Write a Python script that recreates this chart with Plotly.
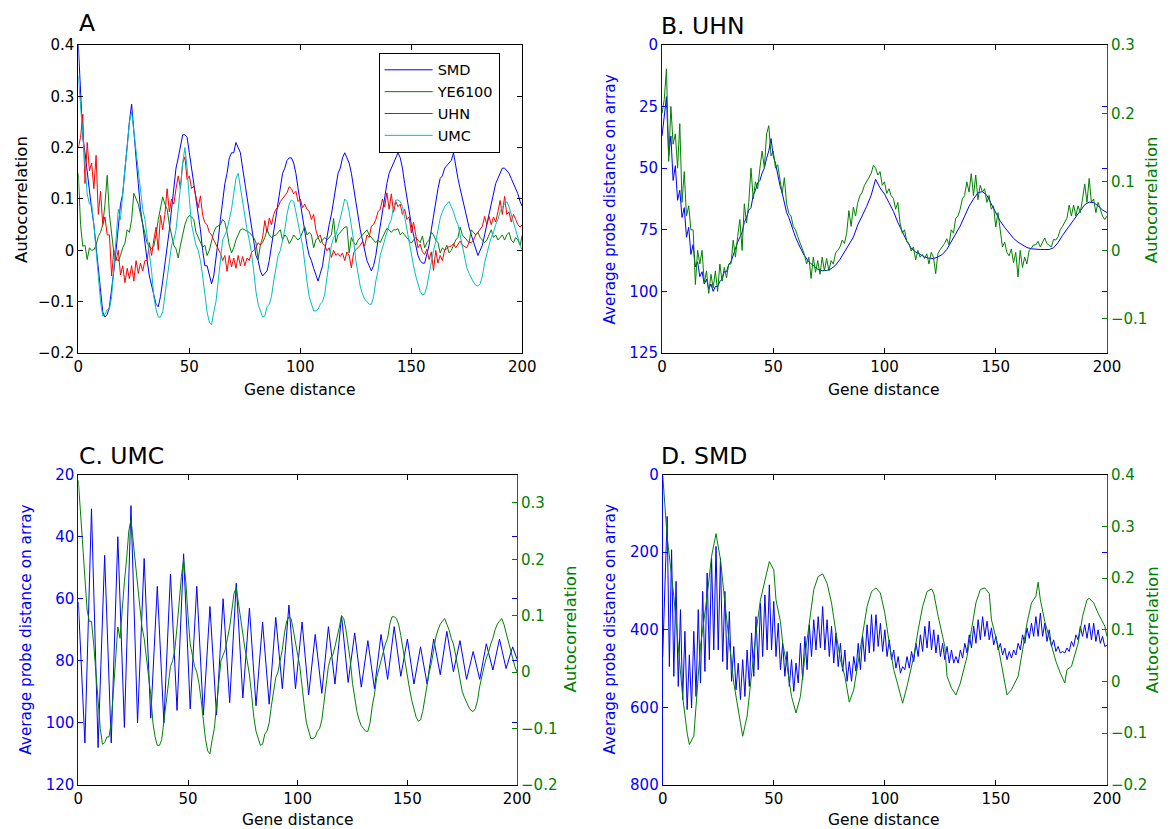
import plotly.graph_objects as go

# ---------------- data ----------------
gene_distance = list(range(201))

# Panel A autocorrelations (lag 0..200)
smd_auto = [
    0.40, 0.32, 0.22, 0.19, 0.15, 0.12, 0.08, 0.05, 0.01, -0.04,
    -0.08, -0.12, -0.13, -0.125, -0.11, -0.08, -0.04, 0.00, 0.05, 0.09,
    0.11, 0.16, 0.21, 0.25, 0.285, 0.24, 0.18, 0.13, 0.08, 0.05,
    0.01, -0.02, -0.05, -0.07, -0.09, -0.105, -0.11, -0.09, -0.06, -0.03,
    0.00, 0.04, 0.08, 0.12, 0.16, 0.18, 0.20, 0.225, 0.225, 0.22,
    0.19, 0.16, 0.13, 0.11, 0.08, 0.04, 0.00, -0.03, -0.03, -0.05,
    -0.065, -0.05, -0.02, 0.02, 0.06, 0.10, 0.13, 0.15, 0.18, 0.19,
    0.19, 0.21, 0.20, 0.19, 0.16, 0.13, 0.10, 0.07, 0.04, 0.01,
    -0.01, -0.02, -0.04, -0.05, -0.045, -0.04, -0.02, 0.01, 0.04, 0.07,
    0.10, 0.13, 0.15, 0.16, 0.175, 0.18, 0.18, 0.17, 0.15, 0.12,
    0.09, 0.06, 0.04, 0.01, -0.01, -0.02, -0.035, -0.05, -0.06, -0.045,
    -0.03, 0.00, 0.03, 0.05, 0.07, 0.10, 0.12, 0.15, 0.16, 0.18,
    0.19, 0.18, 0.17, 0.15, 0.12, 0.09, 0.06, 0.04, 0.02, 0.00,
    -0.02, -0.03, -0.04, -0.03, -0.01, 0.02, 0.05, 0.08, 0.10, 0.13,
    0.15, 0.16, 0.17, 0.18, 0.19, 0.18, 0.16, 0.13, 0.10, 0.08,
    0.05, 0.03, 0.01, -0.01, -0.02, -0.025, -0.025, -0.01, 0.01, 0.04,
    0.07, 0.10, 0.12, 0.14, 0.145, 0.16, 0.165, 0.17, 0.175, 0.19,
    0.16, 0.14, 0.12, 0.10, 0.08, 0.06, 0.045, 0.03, 0.015, 0.005,
    -0.01, 0.00, 0.01, 0.03, 0.05, 0.07, 0.09, 0.11, 0.13, 0.14,
    0.15, 0.16, 0.16, 0.155, 0.15, 0.14, 0.13, 0.12, 0.11, 0.095,
    0.085,
]

ye6100_auto = [
    0.15, 0.05, 0.008, 0.01, -0.018, 0.005, 0.0, 0.001, 0.01, 0.027,
    0.035, 0.05, 0.09, 0.146, 0.07, 0.03, -0.005, -0.015, -0.021, -0.01,
    0.005, 0.014, 0.04, 0.035, 0.06, 0.111, 0.10, 0.09, 0.07, 0.05,
    0.03, 0.014, 0.008, 0.003, 0.008, 0.03, 0.06, 0.08, 0.104, 0.09,
    0.08, 0.05, 0.027, 0.01, 0.003, -0.015, 0.01, 0.03, 0.05, 0.062,
    0.068, 0.065, 0.06, 0.035, 0.025, 0.015, 0.006, 0.01, -0.01, 0.0,
    0.02, 0.035, 0.045, 0.048, 0.05, 0.06, 0.055, 0.035, 0.01, -0.005,
    0.005, 0.02, 0.03, 0.04, 0.042, 0.04, 0.037, 0.035, 0.03, 0.025,
    0.015, -0.018, 0.01, 0.015, 0.025, 0.04, 0.03, 0.025, 0.028, 0.03,
    0.035, 0.04, 0.02, 0.03, 0.025, 0.013, 0.02, 0.03, 0.025, 0.02,
    0.025, 0.035, 0.046, 0.03, 0.035, 0.03, 0.005, 0.02, 0.025, 0.015,
    0.02, 0.025, 0.02, 0.025, 0.03, 0.062, 0.015, 0.03, 0.035, 0.04,
    0.045, 0.046, -0.005, 0.025, 0.015, 0.01, 0.02, 0.025, 0.03, 0.035,
    0.04, 0.03, 0.025, 0.02, 0.015, 0.02, 0.015, 0.025, 0.035, 0.043,
    0.04, 0.035, 0.04, 0.04, 0.042, 0.03, 0.035, 0.03, 0.025, 0.02,
    0.014, 0.02, 0.025, 0.02, 0.015, 0.028, 0.005, 0.015, 0.02, 0.035,
    0.03, 0.02, 0.015, -0.005, 0.005, 0.0, 0.01, -0.005, 0.0, 0.01,
    0.02, 0.025, 0.045, 0.03, 0.025, 0.02, 0.015, 0.04, 0.035, 0.03,
    0.035, 0.025, 0.02, 0.015, 0.02, 0.03, 0.04, 0.025, 0.03, 0.02,
    0.025, 0.03, 0.02, 0.03, 0.035, 0.02, 0.015, 0.025, 0.02, 0.01,
    0.03,
]

uhn_auto = [
    0.20, 0.22, 0.265, 0.13, 0.21, 0.155, 0.17, 0.12, 0.185, 0.07,
    0.115, 0.05, 0.065, 0.03, 0.03, -0.05, 0.0, -0.02, 0.0, -0.048,
    -0.03, -0.063, -0.035, -0.055, -0.03, -0.06, -0.02, -0.045, -0.025, -0.04,
    -0.02, -0.02, 0.015, -0.01, 0.02, 0.045, 0.0, 0.068, 0.04, 0.07,
    0.12, 0.075, 0.10, 0.09, 0.12, 0.145, 0.12, 0.17, 0.182, 0.138,
    0.145, 0.12, 0.125, 0.10, 0.083, 0.106, 0.068, 0.054, 0.05, 0.035,
    0.03, 0.02, 0.011, 0.002, -0.006, -0.02, -0.01, -0.041, -0.01, -0.032,
    -0.015, -0.035, -0.01, -0.03, -0.012, -0.03, -0.015, -0.02, -0.004, 0.0,
    0.005, 0.015, 0.01, 0.025, 0.058, 0.035, 0.063, 0.05, 0.07, 0.08,
    0.085, 0.095, 0.10, 0.105, 0.112, 0.124, 0.12, 0.11, 0.115, 0.095,
    0.10, 0.083, 0.09, 0.08, 0.076, 0.06, 0.07, 0.04, 0.025, 0.03,
    0.013, 0.01, -0.001, 0.005, -0.014, 0.0, -0.01, -0.006, -0.012, -0.005,
    -0.02, -0.003, -0.01, -0.034, -0.005, 0.001, 0.005, 0.01, 0.017, 0.008,
    0.03, 0.025, 0.047, 0.05, 0.06, 0.075, 0.08, 0.10, 0.085, 0.112,
    0.08, 0.11, 0.074, 0.095, 0.085, 0.09, 0.07, 0.08, 0.06, 0.065,
    0.034, 0.055, 0.03, 0.005, 0.012, -0.003, -0.008, 0.002, -0.018, -0.003,
    -0.039, 0.0, -0.025, -0.01, -0.02, 0.0, 0.003, 0.008, 0.008, 0.013,
    0.005, 0.012, 0.018, 0.01, 0.008, 0.005, 0.016, 0.015, 0.02, 0.03,
    0.035, 0.042, 0.047, 0.066, 0.05, 0.066, 0.05, 0.065, 0.055, 0.075,
    0.097, 0.07, 0.105, 0.07, 0.075, 0.055, 0.07, 0.06, 0.05, 0.045,
    0.05,
]

umc_auto = [
    0.34, 0.28, 0.22, 0.15, 0.11, 0.09, 0.09, 0.05, 0.0, -0.05,
    -0.10, -0.128, -0.125, -0.115, -0.115, -0.09, -0.03, 0.03, 0.08, 0.06,
    0.12, 0.16, 0.20, 0.25, 0.27, 0.23, 0.20, 0.15, 0.11, 0.08,
    0.06, 0.03, 0.0, -0.04, -0.09, -0.115, -0.13, -0.13, -0.12, -0.09,
    -0.06, -0.02, 0.01, 0.02, 0.04, 0.08, 0.13, 0.17, 0.20, 0.16,
    0.10, 0.05, 0.03, 0.01, 0.0, -0.02, -0.05, -0.09, -0.12, -0.14,
    -0.145, -0.12, -0.10, -0.06, -0.02, 0.02, 0.03, 0.04, 0.06, 0.08,
    0.11, 0.14, 0.15, 0.12, 0.09, 0.06, 0.04, 0.02, -0.005, -0.04,
    -0.08, -0.105, -0.12, -0.13, -0.128, -0.11, -0.105, -0.09, -0.06, -0.03,
    -0.01, 0.0, 0.02, 0.04, 0.07, 0.09, 0.098, 0.095, 0.075, 0.05,
    0.03, 0.01, -0.03, -0.06, -0.09, -0.105, -0.118, -0.118, -0.115, -0.105,
    -0.10, -0.085, -0.05, -0.02, 0.01, 0.025, 0.03, 0.045, 0.06, 0.08,
    0.10, 0.095, 0.075, 0.05, 0.02, -0.02, -0.05, -0.07, -0.085, -0.095,
    -0.10, -0.105, -0.105, -0.09, -0.06, -0.04, -0.01, 0.005, 0.025, 0.04,
    0.05, 0.06, 0.085, 0.098, 0.098, 0.095, 0.085, 0.065, 0.04, 0.018,
    -0.01, -0.03, -0.05, -0.065, -0.08, -0.087, -0.085, -0.07, -0.045, -0.02,
    0.0, 0.017, 0.04, 0.062, 0.075, 0.085, 0.09, 0.095, 0.085, 0.075,
    0.06, 0.05, 0.03, 0.007, -0.015, -0.034, -0.045, -0.055, -0.062, -0.068,
    -0.07, -0.065, -0.05, -0.025, -0.005, 0.01, 0.025, 0.035, 0.05, 0.06,
    0.075, 0.085, 0.09, 0.095, 0.085, 0.07, 0.055, 0.04, 0.02, 0.01,
    0.0,
]

# Panel B: UHN average probe distance on array
uhn_probe_x = list(range(0, 61)) + list(range(62, 201, 2))
uhn_probe = [
    37, 30, 21, 45, 37, 55, 49, 63, 59, 70,
    66, 78, 74, 85, 81, 90, 88, 94, 92, 97,
    95, 99, 97, 100, 98, 98, 96, 95, 92, 92,
    89, 88, 85, 83, 80, 78, 76, 72, 70, 67,
    66, 61, 59, 56, 55, 52, 50, 46, 43, 38,
    45, 48, 53, 57, 60, 64, 68, 70, 73, 76,
    78,
    82, 85.5, 88, 89.5, 91, 91.6, 91.5, 90.8, 89.4, 87,
    84, 81, 78, 73, 69.5, 65.5, 61, 54.5, 58, 60.5,
    64, 67.5, 72, 76, 79.5, 82.5, 84, 85, 86, 86.5,
    86.7, 86, 85, 83, 80, 77, 73.5, 69.5, 65.5, 62.5,
    60, 59.5, 61, 64.5, 68, 71.5, 74, 76.5, 78.5, 80,
    81.2, 82.2, 82.7, 83, 83, 83, 83, 82.3, 80.2, 77.3,
    74.8, 72, 69.5, 67, 64.8, 63.8, 64, 65.3, 67, 68,
]

# Panel C: UMC average probe distance on array (turning points)
umc_probe_x = list(range(0, 199, 3)) + [200]
umc_probe = [
    61, 106.5, 31, 108, 46, 106.5, 40, 101.5, 30, 100,
    47, 98.5, 56, 100, 52, 96, 45.5, 95.5, 56, 97.5,
    62.5, 97.5, 60, 93.5, 55, 92, 63, 94.5, 67.5, 94,
    66, 89, 62, 89, 67.5, 91, 71.5, 90.5, 69, 87.5,
    65.5, 87, 71, 88.5, 73.5, 89, 71.5, 86, 69, 85,
    73, 87.5, 75.5, 87.5, 73, 84.5, 70.5, 83.5, 73.5, 86,
    77, 86, 74.5, 83, 73, 82.5, 75.5, 79.5,
]

# Panel D: SMD average probe distance on array
smd_probe_x = [0] + list(range(2, 201))
smd_probe = [
    469,
    107.5, 495, 193.5, 520, 275, 546, 348, 580,
    404, 606, 464.5, 602, 404, 572, 348, 537.5, 301, 507.5,
    253.7, 477, 215, 452, 185, 452, 215, 482, 301, 503,
    353, 533, 443, 555, 486, 580, 477, 572, 452, 546,
    408, 520, 366, 503, 331, 469, 310, 452, 284, 452,
    327, 469, 383, 503, 435, 520, 456, 546, 477, 559,
    486, 537, 435, 529, 417, 503, 387, 469, 374, 452,
    366, 447, 340, 452, 374, 469, 391, 486, 408, 495,
    435, 507, 452, 533, 482, 533, 469, 507, 435, 503,
    417, 482, 387, 460, 361, 456, 361, 443, 383, 456,
    400, 469, 426, 477, 452, 499, 469, 512, 495, 503,
    469, 499, 456, 482, 435, 469, 413, 456, 391, 447,
    378, 452, 400, 460, 413, 469, 435, 477, 443, 486,
    452, 486, 469, 486, 452, 473, 435, 460, 413, 447,
    391, 435, 374, 426, 366, 417, 378, 426, 395, 439,
    417, 452, 435, 465, 447, 477, 456, 473, 452, 465,
    435, 452, 413, 435, 395, 422, 383, 417, 366, 417,
    357, 417, 383, 430, 400, 443, 426, 456, 443, 460,
    456, 460, 447, 456, 430, 443, 413, 426, 391, 417,
    387, 422, 383, 426, 383, 430, 400, 435, 417, 443,
    440,
]

# Panel D: SMD autocorrelation as drawn in panel D
smd_auto_d_x = [0, 2, 5, 7, 9, 11, 12, 14, 15, 17, 20, 22, 24, 26, 28, 30, 32, 35, 36, 38,
                40, 42, 44, 47, 48, 50, 51, 53, 54, 56, 58, 60, 62, 64, 66, 68, 70, 72, 74, 76,
                78, 80, 82, 84, 86, 88, 90, 92, 94, 96, 98, 100, 102, 104, 106, 108, 110, 113, 115, 117,
                119, 121, 122, 124, 127, 128, 130, 132, 134, 137, 139, 141, 143, 145, 147, 148, 151, 153, 155, 157,
                160, 162, 164, 166, 168, 169, 170, 172, 175, 177, 179, 181, 182, 184, 187, 189, 191, 192, 194, 196,
                199, 200]
smd_auto_d = [0.40, 0.28, 0.165, 0.06, -0.03, -0.10, -0.122, -0.106, -0.042, 0.068, 0.165, 0.242, 0.286, 0.236, 0.152, 0.074, -0.003, -0.08, -0.106, -0.067,
              0.016, 0.094, 0.158, 0.216, 0.232, 0.216, 0.158, 0.116, 0.074, 0.029, -0.029, -0.061, -0.029, 0.048, 0.119, 0.178, 0.203, 0.208, 0.19, 0.152,
              0.094, 0.042, 0.01, -0.04, -0.016, 0.036, 0.094, 0.145, 0.174, 0.181, 0.171, 0.132, 0.074, 0.023, -0.009, -0.042, -0.009, 0.048, 0.10, 0.145,
              0.174, 0.179, 0.171, 0.126, 0.068, 0.01, -0.013, -0.026, -0.003, 0.048, 0.10, 0.152, 0.178, 0.181, 0.17, 0.119, 0.068, 0.023, -0.026, -0.016,
              0.01, 0.061, 0.113, 0.152, 0.165, 0.192, 0.158, 0.116, 0.068, 0.039, 0.016, -0.003, 0.023, 0.029, 0.074, 0.126, 0.158, 0.161, 0.152, 0.132,
              0.107, 0.087]

x_ticks = [0, 50, 100, 150, 200]
legend_names = ["SMD", "YE6100", "UHN", "UMC"]

# ---------------- style ----------------
W, H = 1170, 829
FONT = "DejaVu Sans"
BLUE = "#0000ff"
GREEN = "#008000"
RED = "#ff0000"
CYAN = "#00bfbf"
TICK_SIZE = 15
XLAB_SIZE = 15.5
AUTO_LAB_SIZE = 16.5
PROBE_LAB_SIZE = 15.3
TITLE_SIZE = 23.5

# the rendered page comes out slightly shrunk; map target pixel positions accordingly
SX, OX = 0.986, 3.5
SY, OY = 0.981, 8.0


def fx(p):
    return min(max((p - OX) / SX / W, 0.0), 1.0)


def fy(p):
    return min(max(1 - (p - OY) / SY / H, 0.0), 1.0)


fig = go.Figure()

# Panel A
for name, vals, col in zip(legend_names, [smd_auto, ye6100_auto, uhn_auto, umc_auto], [BLUE, GREEN, RED, CYAN]):
    fig.add_trace(go.Scatter(x=gene_distance, y=vals, mode="lines", name=name,
                             line=dict(color=col, width=1), xaxis="x", yaxis="y"))

# Panel B
fig.add_trace(go.Scatter(x=uhn_probe_x, y=uhn_probe, mode="lines", showlegend=False,
                         line=dict(color=BLUE, width=1), xaxis="x2", yaxis="y2"))
fig.add_trace(go.Scatter(x=gene_distance, y=uhn_auto, mode="lines", showlegend=False,
                         line=dict(color=GREEN, width=1), xaxis="x2", yaxis="y3"))
# Panel C
fig.add_trace(go.Scatter(x=umc_probe_x, y=umc_probe, mode="lines", showlegend=False,
                         line=dict(color=BLUE, width=1), xaxis="x3", yaxis="y4"))
fig.add_trace(go.Scatter(x=gene_distance, y=umc_auto, mode="lines", showlegend=False,
                         line=dict(color=GREEN, width=1), xaxis="x3", yaxis="y5"))
# Panel D
fig.add_trace(go.Scatter(x=smd_probe_x, y=smd_probe, mode="lines", showlegend=False,
                         line=dict(color=BLUE, width=1), xaxis="x4", yaxis="y6"))
fig.add_trace(go.Scatter(x=smd_auto_d_x, y=smd_auto_d, mode="lines", showlegend=False,
                         line=dict(color=GREEN, width=1), xaxis="x4", yaxis="y7"))


def xax(domain, anchor):
    return dict(domain=domain, anchor=anchor, range=[0, 200], tickvals=x_ticks,
                ticks="inside", ticklen=5, tickcolor="black", showline=True, linecolor="black",
                linewidth=1, mirror="ticks", showgrid=False, zeroline=False,
                tickfont=dict(family=FONT, size=TICK_SIZE, color="black"))


def yax(domain, anchor, rng, tickvals, color, side="left", overlaying=None, mirror="ticks"):
    d = dict(anchor=anchor, range=rng, tickvals=tickvals, ticks="inside", ticklen=5,
             tickcolor=color, showline=True, linecolor=color, linewidth=1, mirror=mirror,
             showgrid=False, zeroline=False, side=side,
             tickfont=dict(family=FONT, size=TICK_SIZE, color=color))
    if overlaying:
        d["overlaying"] = overlaying
    else:
        d["domain"] = domain
    return d


top_dom = [fy(353), fy(44)]
bot_dom = [fy(786), fy(475)]

fig.update_layout(
    width=W, height=H, autosize=False, margin=dict(l=0, r=0, t=0, b=0),
    paper_bgcolor="white", plot_bgcolor="white",
    font=dict(family=FONT, size=XLAB_SIZE, color="black"),
    xaxis=xax([fx(77), fx(522)], "y"),
    yaxis=yax(top_dom, "x", [-0.2, 0.4], [-0.2, -0.1, 0, 0.1, 0.2, 0.3, 0.4], "black"),
    xaxis2=xax([fx(662), fx(1108)], "y2"),
    yaxis2=yax(top_dom, "x2", [125, 0], [0, 25, 50, 75, 100, 125], BLUE),
    yaxis3=yax(None, "x2", [-0.15, 0.3], [-0.1, 0, 0.1, 0.2, 0.3], GREEN, side="right",
               overlaying="y2", mirror=False),
    xaxis3=xax([fx(77), fx(516.7)], "y4"),
    yaxis4=yax(bot_dom, "x3", [120, 20], [20, 40, 60, 80, 100, 120], BLUE),
    yaxis5=yax(None, "x3", [-0.2, 0.35], [-0.2, -0.1, 0, 0.1, 0.2, 0.3], GREEN, side="right",
               overlaying="y4", mirror=False),
    xaxis4=xax([fx(662.7), fx(1108)], "y6"),
    yaxis6=yax(bot_dom, "x4", [800, 0], [0, 200, 400, 600, 800], BLUE),
    yaxis7=yax(None, "x4", [-0.2, 0.4], [-0.2, -0.1, 0, 0.1, 0.2, 0.3, 0.4], GREEN, side="right",
               overlaying="y6", mirror=False),
    legend=dict(x=fx(378), y=fy(52), xanchor="left", yanchor="top", bgcolor="white",
                bordercolor="black", borderwidth=1, font=dict(family=FONT, size=14.5, color="black"),
                itemwidth=48, tracegroupgap=0),
    showlegend=True,
)


def ann(text, x, y, size, color="black", angle=0, xanchor="center"):
    fig.add_annotation(text=text, x=fx(x), y=fy(y), xref="paper", yref="paper", showarrow=False,
                       textangle=angle, xanchor=xanchor, yanchor="middle",
                       font=dict(family=FONT, size=size, color=color))


# panel titles
ann("A", 76, 22, TITLE_SIZE, xanchor="left")
ann("B. UHN", 659, 25, TITLE_SIZE, xanchor="left")
ann("C. UMC", 76, 456, TITLE_SIZE, xanchor="left")
ann("D. SMD", 659, 456, TITLE_SIZE, xanchor="left")
# x titles
for cx, cy in [(299, 390), (885, 390), (297, 821), (885, 821)]:
    ann("Gene distance", cx, cy, XLAB_SIZE)
# y titles
ann("Autocorrelation", 20, 199, AUTO_LAB_SIZE, angle=-90)
ann("Average probe distance on array", 610, 199, PROBE_LAB_SIZE, color=BLUE, angle=-90)
ann("Autocorrelation", 1153, 199, AUTO_LAB_SIZE, color=GREEN, angle=-90)
ann("Average probe distance on array", 25, 630, PROBE_LAB_SIZE, color=BLUE, angle=-90)
ann("Autocorrelation", 570, 630, AUTO_LAB_SIZE, color=GREEN, angle=-90)
ann("Average probe distance on array", 610, 630, PROBE_LAB_SIZE, color=BLUE, angle=-90)
ann("Autocorrelation", 1153, 630, AUTO_LAB_SIZE, color=GREEN, angle=-90)

fig.write_html(
    "out.html",
    config={"responsive": False, "displayModeBar": False},
    post_script=(
        "var gd=document.getElementById('{plot_id}');"
        "gd.style.position='fixed';gd.style.left='0px';gd.style.top='0px';"
        "document.body.style.margin='0';document.body.style.padding='0';"
        "document.documentElement.style.overflow='hidden';"
    ),
)
